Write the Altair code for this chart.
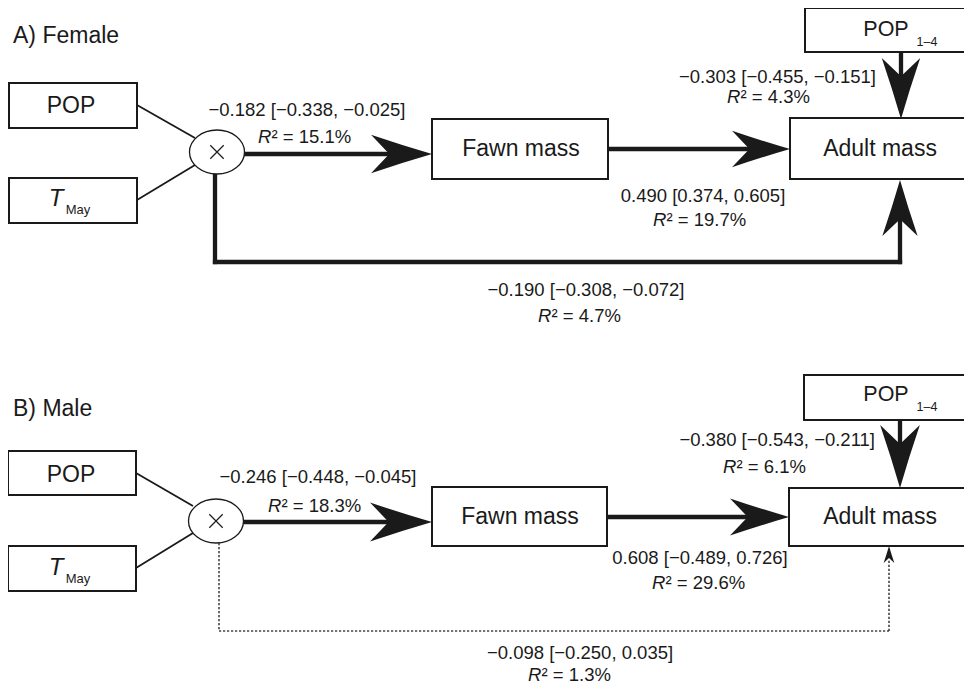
import altair as alt
import pandas as pd

FONT = "Liberation Sans"
INK = "#1a1a1a"

# ---------------- panel titles ----------------
title_text = ["A) Female", "B) Male"]
title_x = [13, 13]
title_y = [36, 409]

# ---------------- variable boxes (A: first 5, B: last 5) ----------------
box_name = ["POP", "T_May", "Fawn mass", "Adult mass", "POP_1-4",
            "POP", "T_May", "Fawn mass", "Adult mass", "POP_1-4"]
box_x0 = [9, 9, 432, 790, 805, 8, 8, 432, 789, 804]
box_x1 = [137, 137, 608, 990, 990, 136, 136, 607, 990, 990]
box_y0 = [83, 178, 119, 118, 8, 451, 546, 487, 488, 375]
box_y1 = [128, 223, 179, 179, 52, 495, 591, 546, 546, 420]

# plain captions
cap_text = ["POP", "Fawn mass", "Adult mass", "POP", "Fawn mass", "Adult mass"]
cap_x = [71, 521, 880, 71, 520, 880]
cap_y = [106, 149, 149, 475, 517, 517]

# T_May captions
tmay_x = [56, 56]
tmay_y = [199, 568]
may_x = [78, 78]
may_y = [210, 579]
# POP_1-4 captions
pop14_x = [886, 886]
pop14_y = [30, 395]
sub14_x = [927, 927]
sub14_y = [42, 407]

# ---------------- interaction nodes (POP x T_May) ----------------
node_x = [217, 216]
node_y = [152, 521]

# ---------------- path coefficients ----------------
coef_text = ["\u22120.182 [\u22120.338, \u22120.025]", "\u22120.303 [\u22120.455, \u22120.151]",
             "0.490 [0.374, 0.605]", "\u22120.190 [\u22120.308, \u22120.072]",
             "\u22120.246 [\u22120.448, \u22120.045]", "\u22120.380 [\u22120.543, \u22120.211]",
             "0.608 [\u22120.489, 0.726]", "\u22120.098 [\u22120.250, 0.035]"]
coef_x = [307, 876, 703, 586, 318, 875, 700, 580]
coef_y = [110, 77, 196, 290, 477, 440, 558, 653]
coef_align = ["center", "right", "center", "center", "center", "right", "center", "center"]

r2_value = ["15.1%", "4.3%", "19.7%", "4.7%", "18.3%", "6.1%", "29.6%", "1.3%"]
r2_x = [258, 727, 653, 538, 268, 723, 652, 528]
r2_y = [137, 97, 220, 316, 506, 467, 583, 675]

# ---------------- connecting lines ----------------
thin_x = [137, 137, 136, 136]
thin_y = [105, 200, 473, 568]
thin_x2 = [195, 195, 193, 193]
thin_y2 = [138, 165, 506, 533]

thick_x = [244, 608, 901, 215, 215, 900, 243, 607, 900]
thick_y = [154, 149, 52, 172, 262, 262, 522, 517, 420]
thick_x2 = [405, 765, 901, 215, 900, 900, 405, 765, 900]
thick_y2 = [154, 149, 95, 262, 262, 205, 522, 517, 465]

dot_x = [219, 219, 889]
dot_y = [543, 631, 631]
dot_x2 = [219, 889, 889]
dot_y2 = [631, 631, 560]

# ---------------- arrowheads ----------------
head_tip_x = [432, 790, 901, 900, 432, 789, 900, 889]
head_tip_y = [154, 149, 119, 180, 522, 517, 488, 546]
head_len = [61, 58, 61, 56, 62, 59, 63, 17]
head_angle = [0, 0, 90, 270, 0, 0, 90, 270]

# ---------------- build tables ----------------
xs = alt.Scale(domain=[8, 964], nice=False, zero=False)
ys = alt.Scale(domain=[8, 687], nice=False, zero=False, reverse=True)


def X(f="x"):
    return alt.X(f"{f}:Q", scale=xs, axis=None)


def Y(f="y"):
    return alt.Y(f"{f}:Q", scale=ys, axis=None)


def seg_df(x, y, x2, y2):
    return pd.DataFrame({"x": x, "y": y, "x2": x2, "y2": y2})


def rule_layer(df, width, dash=None, color=INK, cap="butt"):
    kw = dict(strokeWidth=width, color=color, strokeCap=cap)
    if dash:
        kw["strokeDash"] = dash
    return alt.Chart(df).mark_rule(**kw).encode(
        x=X(), y=Y(), x2=alt.X2("x2"), y2=alt.Y2("y2"))


def text_layer(df, align="center", italic=False):
    return alt.Chart(df).mark_text(
        align=align, baseline="middle", font=FONT,
        fontStyle="italic" if italic else "normal", color=INK
    ).encode(x=X(), y=Y(), text="t:N", size=alt.Size("fs:Q", scale=None))


boxes = pd.DataFrame({"name": box_name, "x": box_x0, "x2": box_x1,
                      "y": box_y0, "y2": box_y1})

unit_dir = {0: (1, 0), 90: (0, 1), 180: (-1, 0), 270: (0, -1)}
heads = pd.DataFrame({
    "x": [tx - L / 2 * unit_dir[a][0] for tx, L, a in zip(head_tip_x, head_len, head_angle)],
    "y": [ty - L / 2 * unit_dir[a][1] for ty, L, a in zip(head_tip_y, head_len, head_angle)],
    "s": [L * L for L in head_len],
    "a": head_angle,
})

nodes = pd.DataFrame({"x": node_x, "y": node_y})

ARROW = "M1,0 Q0,-0.29 -1,-0.63 L-0.4,0 L-1,0.63 Q0,0.29 1,0 Z"
ELLIPSE = ("M1,0 C1,0.4418 0.5523,0.8 0,0.8 C-0.5523,0.8 -1,0.4418 -1,0 "
           "C-1,-0.4418 -0.5523,-0.8 0,-0.8 C0.5523,-0.8 1,-0.4418 1,0 Z")
CROSS = "M-1,-1 L1,1 M-1,1 L1,-1"

layers = []
layers.append(rule_layer(seg_df(thin_x, thin_y, thin_x2, thin_y2), 1.8))
layers.append(rule_layer(seg_df(thick_x, thick_y, thick_x2, thick_y2), 4.3, cap="square"))
layers.append(rule_layer(seg_df(dot_x, dot_y, dot_x2, dot_y2), 1.6, dash=[2.2, 1.8], color="#444444"))

layers.append(alt.Chart(boxes).mark_rect(fill="white", stroke=INK, strokeWidth=2).encode(
    x=X(), x2=alt.X2("x2"), y=Y(), y2=alt.Y2("y2")))

layers.append(alt.Chart(nodes).mark_point(
    shape=ELLIPSE, size=3025, filled=True, fill="white", stroke=INK,
    strokeWidth=1.3, opacity=1).encode(x=X(), y=Y()))
layers.append(alt.Chart(nodes).mark_point(
    shape=CROSS, size=180, filled=False, color=INK, strokeWidth=1.2, opacity=1
).encode(x=X(), y=Y()))

layers.append(alt.Chart(heads).mark_point(
    shape=ARROW, filled=True, color=INK, opacity=1, strokeWidth=0).encode(
    x=X(), y=Y(), size=alt.Size("s:Q", scale=None), angle=alt.Angle("a:Q", scale=None)))

# texts
layers.append(text_layer(pd.DataFrame({"x": title_x, "y": title_y, "t": title_text, "fs": 23}), align="left"))
layers.append(text_layer(pd.DataFrame({"x": cap_x, "y": cap_y, "t": cap_text, "fs": 23})))
layers.append(text_layer(pd.DataFrame({"x": tmay_x, "y": tmay_y, "t": ["T", "T"], "fs": 24}), italic=True))
layers.append(text_layer(pd.DataFrame({"x": may_x, "y": may_y, "t": ["May", "May"], "fs": 13})))
layers.append(text_layer(pd.DataFrame({"x": pop14_x, "y": pop14_y, "t": ["POP", "POP"], "fs": 21.5})))
layers.append(text_layer(pd.DataFrame({"x": sub14_x, "y": sub14_y, "t": ["1\u20134", "1\u20134"], "fs": 12.5})))

coef = pd.DataFrame({"x": coef_x, "y": coef_y, "t": coef_text, "al": coef_align, "fs": 18.5})
layers.append(text_layer(coef[coef.al == "center"]))
layers.append(text_layer(coef[coef.al == "right"], align="right"))

layers.append(text_layer(pd.DataFrame({"x": r2_x, "y": r2_y, "t": ["R"] * len(r2_x), "fs": 18.5}),
                         align="left", italic=True))
layers.append(text_layer(pd.DataFrame({"x": [v + 13.5 for v in r2_x], "y": r2_y,
                                       "t": ["\u00b2 = " + v for v in r2_value], "fs": 18.5}),
                         align="left"))

chart = alt.layer(*layers).properties(
    width=956, height=679, padding=0, autosize="none", background="white"
).configure_view(strokeWidth=0)

chart.save("out.html", embed_options={"renderer": "svg", "actions": False})
